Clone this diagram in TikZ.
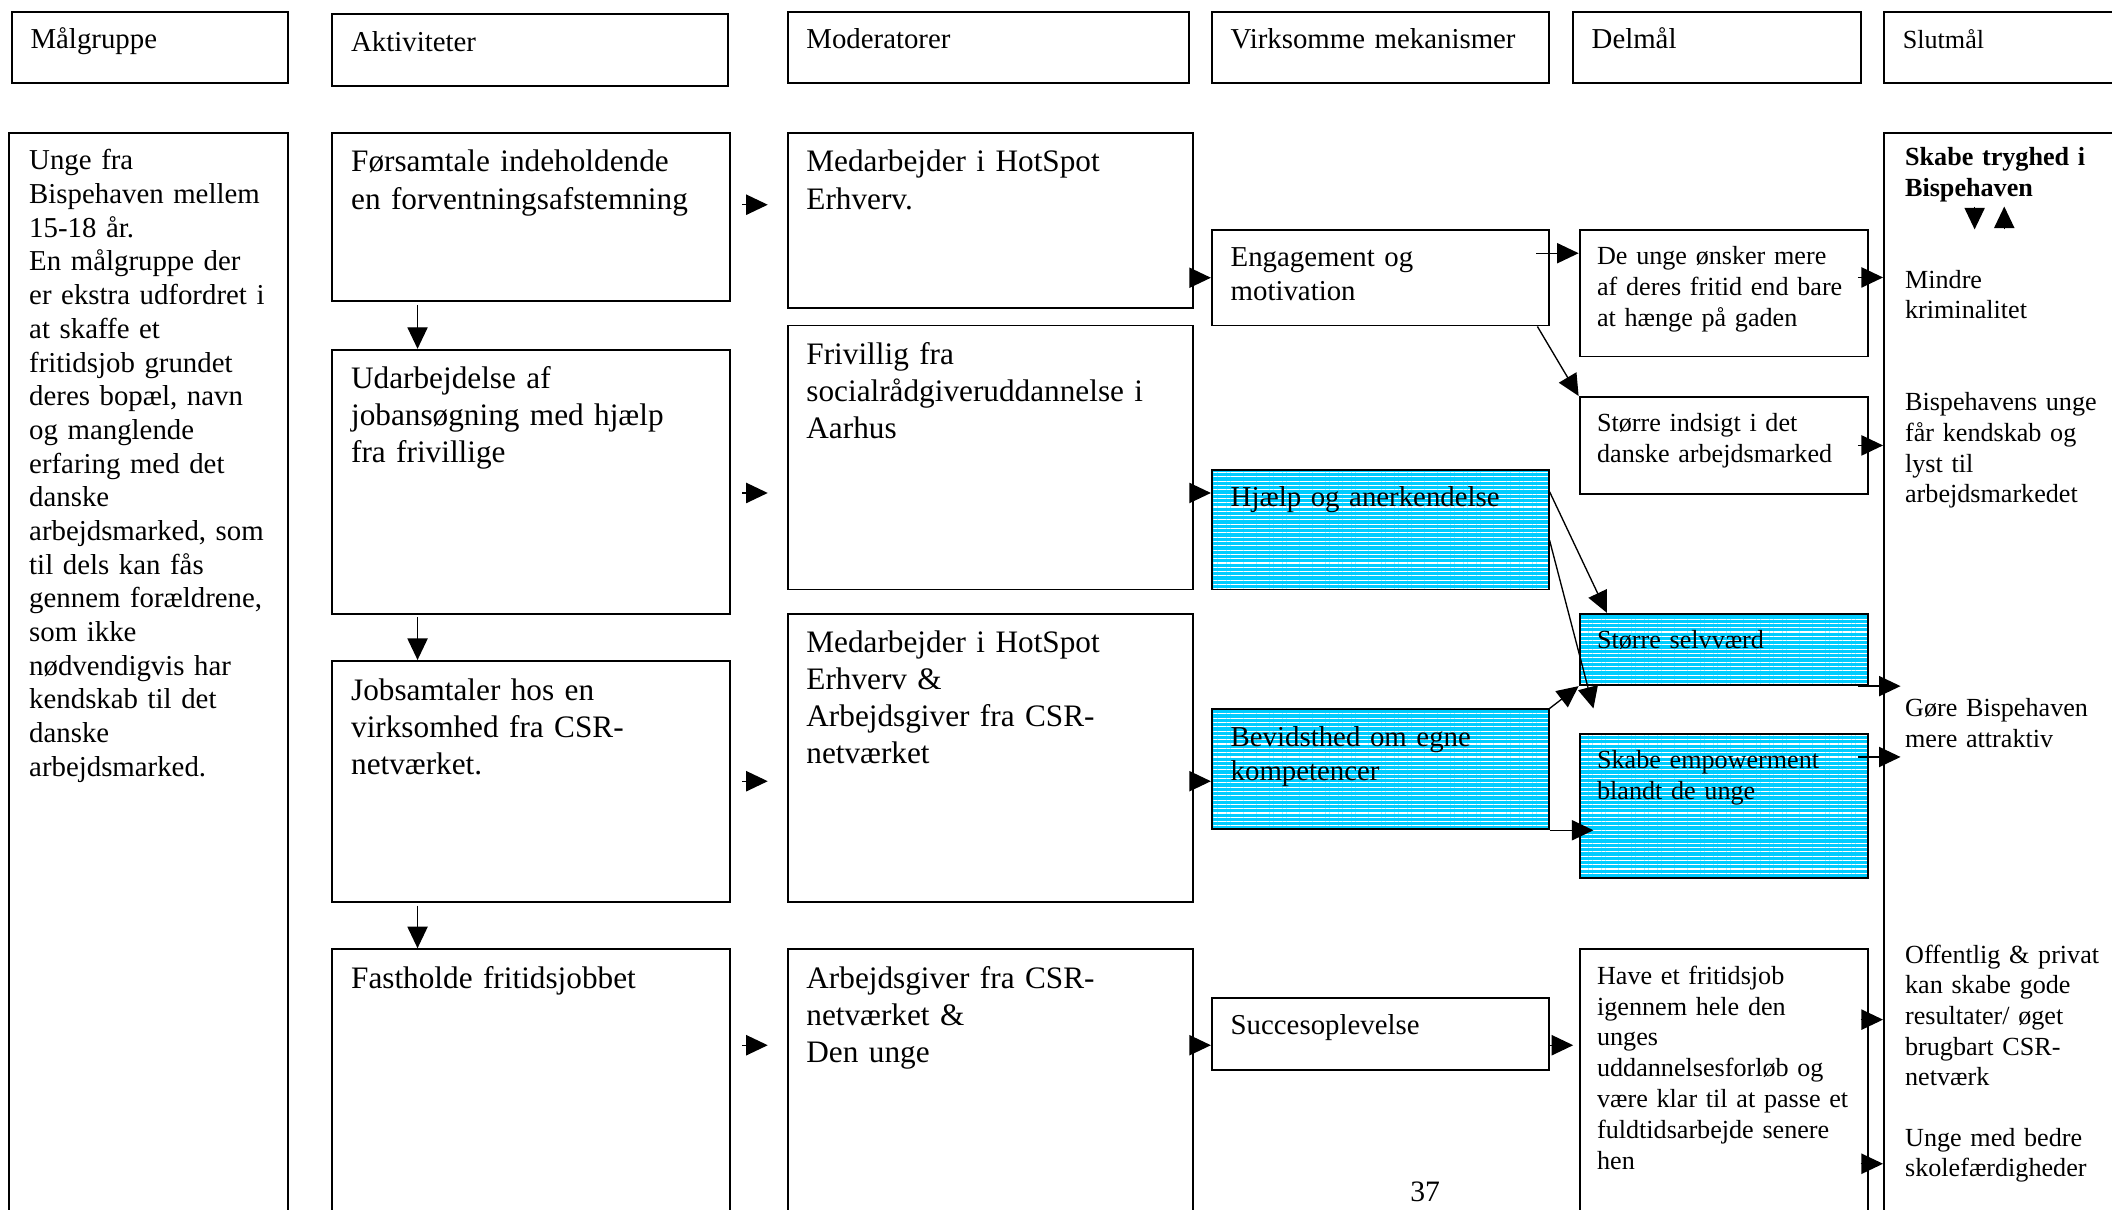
\documentclass[tikz,border=0pt]{standalone}
\usepackage{fontspec}
\setmainfont{Liberation Serif}
\usetikzlibrary{arrows.meta, calc, patterns.meta}
\definecolor{skyfill}{RGB}{0,204,255}

\begin{document}
\begin{tikzpicture}[x=0.5pt, y=-0.5pt]
    \tikzstyle{box}=[draw, line width=0.7pt, anchor=north west, align=left, inner xsep=7pt, inner ysep=3pt]
    \tikzstyle{big}=[box, font=\fontsize{11.6}{13.75}\selectfont, text height=11.5pt]
    \tikzstyle{mid}=[box, font=\fontsize{10.7}{12.5}\selectfont, text height=10.75pt]
    \tikzstyle{small}=[box, font=\fontsize{9.7}{11.45}\selectfont, text height=10pt]
    \tikzstyle{head}=[mid, text depth=9.75pt]
    \tikzstyle{akt}=[big, text width=133.5pt]
    \tikzstyle{mod}=[big, text width=136.5pt]
    \tikzstyle{mek}=[mid, text width=111pt]
    \tikzstyle{del}=[small, inner xsep=6.5pt, text width=94pt]
    \tikzstyle{hatched}=[fill=skyfill, postaction={pattern={Lines[angle=0,distance=1.6pt,line width=0.4pt]}, pattern color=white}, postaction={draw}]
    \tikzstyle{goal}=[anchor=base west, align=left, inner sep=0pt, text width=76pt, font=\fontsize{9.7}{11.4}\selectfont]
    \tikzstyle{arr}=[-{Triangle[length=8pt,width=7.5pt]}, line width=0.5pt]

    \useasboundingbox (0,0) rectangle (1568,898);

    \node[head, text width=88.5pt] (hMal) at (8,8) {Målgruppe};
    \node[head, text width=133pt] (hAkt) at (246,10) {Aktiviteter};
    \node[head, text width=135pt] (hMod) at (584,8) {Moderatorer};
    \node[head, text width=111pt] (hVirk) at (899,8) {Virksomme mekanismer};
    \node[head, text width=93pt] (hDel) at (1167,8) {Delmål};
    \node[head, text width=96pt, font=\fontsize{9.7}{11.4}\selectfont] (hSlut) at (1398,8) {Slutmål};

    \node[mid, inner xsep=7.5pt, text width=88.5pt, text depth=393.25pt] (mal) at (6,98)
      {Unge fra\\Bispehaven mellem\\15-18 år.\\En målgruppe der\\er ekstra udfordret i\\at skaffe et\\fritidsjob grundet\\deres bopæl, navn\\og manglende\\erfaring med det\\danske\\arbejdsmarked, som\\til dels kan fås\\gennem forældrene,\\som ikke\\nødvendigvis har\\kendskab til det\\danske\\arbejdsmarked.};

    \node[akt, text depth=45pt] (A1) at (246,98) {Førsamtale indeholdende\\en forventningsafstemning};
    \node[akt, text depth=80.5pt] (A2) at (246,259) {Udarbejdelse af\\jobansøgning med hjælp\\fra frivillige};
    \node[akt, text depth=72pt] (A3) at (246,490) {Jobsamtaler hos en\\virksomhed fra CSR-\\netværket.};
    \node[akt, text depth=89.5pt] (A4) at (246,704) {Fastholde fritidsjobbet};

    \node[mod, text depth=47.5pt] (M1) at (584,98) {Medarbejder i HotSpot\\Erhverv.};
    \node[mod, text depth=80.5pt] (M2) at (584,241) {Frivillig fra\\socialrådgiveruddannelse i\\Aarhus};
    \node[mod, text depth=89.5pt] (M3) at (584,455) {Medarbejder i HotSpot\\Erhverv \&\\Arbejdsgiver fra CSR-\\netværket};
    \node[mod, text depth=89.5pt] (M4) at (584,704) {Arbejdsgiver fra CSR-\\netværket \&\\Den unge};

    \node[mek, text depth=18.75pt] (V1) at (899,170) {Engagement og\\motivation};
    \node[mek, hatched, text depth=27.75pt] (V2) at (899,348) {Hjælp og anerkendelse};
    \node[mek, hatched, text depth=27.75pt] (V3) at (899,526) {Bevidsthed om egne\\kompetencer};
    \node[mek, text depth=10.25pt] (V4) at (899,740) {Succesoplevelse};

    \node[del, text depth=31pt] (D1) at (1172,170) {De unge ønsker mere\\af deres fritid end bare\\at hænge på gaden};
    \node[del, text depth=20pt] (D2) at (1172,294) {Større indsigt i det\\danske arbejdsmarked};
    \node[del, hatched, text depth=10.5pt] (D3) at (1172,455) {Større selvværd};
    \node[del, hatched, text depth=37.5pt] (D4) at (1172,544) {Skabe empowerment\\blandt de unge};
    \node[del, text depth=91pt] (D5) at (1172,704) {Have et fritidsjob\\igennem hele den\\unges\\uddannelsesforløb og\\være klar til at passe et\\fuldtidsarbejde senere\\hen};

    \node[draw, line width=0.7pt, anchor=north west, inner sep=0pt, minimum width=110pt, minimum height=410pt] (S) at (1398,98) {};
    \node[goal, font=\fontsize{9.7}{11.4}\selectfont\bfseries] (tg) at (1414,123) {Skabe tryghed i\\Bispehaven};
    \node[goal] (g1) at (1414,214) {Mindre\\kriminalitet};
    \node[goal] (g2) at (1414,305) {Bispehavens unge\\får kendskab og\\lyst til\\arbejdsmarkedet};
    \node[goal] (g3) at (1414,532) {Gøre Bispehaven\\mere attraktiv};
    \node[goal] (g4) at (1414,715) {Offentlig \& privat\\kan skabe gode\\resultater/ øget\\brugbart CSR-\\netværk};
    \node[goal] (g5) at (1414,851) {Unge med bedre\\skolefærdigheder};

    \node[font=\fontsize{11}{13}\selectfont] (pg) at (1058,885) {37};

    \coordinate (r1) at (551,152);
    \coordinate (r2) at (551,366);
    \coordinate (r3) at (551,580);
    \coordinate (r4) at (551,776);

    \foreach \u/\v in {A1/A2, A2/A3, A3/A4}
      \draw[arr] ($(\u.south west)+(64,2)$) -- ($(\v.north west)+(64,0)$);
    \foreach \i in {1,...,4}
      \draw[arr] (r\i) -- ($(r\i -| M\i.west)+(-14,0)$);
    \draw[arr] (M1.east |- V1.west) -- (V1.west);
    \foreach \i in {2,3,4}
      \draw[arr] (r\i -| M\i.east) -- (r\i -| V\i.west);

    \draw[arr] ($(V1.north east)+(-10,18)$) -- ($(D1.north west)+(0,18)$);
    \draw[arr] ($(V1.south east)+(-9,0)$) -- (D2.north west);
    \draw[arr] ($(V2.north east)+(0,17)$) -- ($(D3.north west)+(21,0)$);
    \draw[arr] ($(V2.north east)+(0,53)$) -- ($(D4.north west)+(11,-18)$);
    \draw[arr] (V3.north east) -- (D3.south west);
    \draw[arr] (V3.south east) -- ($(V3.south east -| D4.west)+(11,0)$);
    \draw[arr] (r4 -| V4.east) -- ($(r4 -| D5.west)+(-4,0)$);

    \draw[arr] ($(D1.north east)+(-8,36)$) coordinate (t1) -- (t1 -| S.west);
    \draw[arr] ($(D2.east)+(-8,0)$) -- (D2.east -| S.west);
    \draw[arr] ($(D3.south east)+(-8,0)$) -- ($(D3.south east -| S.west)+(13,0)$);
    \draw[arr] ($(D4.north east)+(-8,18)$) coordinate (t4) -- ($(t4 -| S.west)+(13,0)$);
    \draw[arr] ($(D5.north east)+(-6,53)$) coordinate (t5) -- (t5 -| S.west);
    \draw[arr] ($(D5.north east)+(-6,160)$) coordinate (t6) -- (t6 -| S.west);

    \coordinate (dn) at ($(tg.south west)+(52,3)$);
    \draw[arr] (dn) -- ++(0,17);
    \draw[arr] ($(dn)+(22,17)$) -- ++(0,-17);
\end{tikzpicture}
\end{document}
